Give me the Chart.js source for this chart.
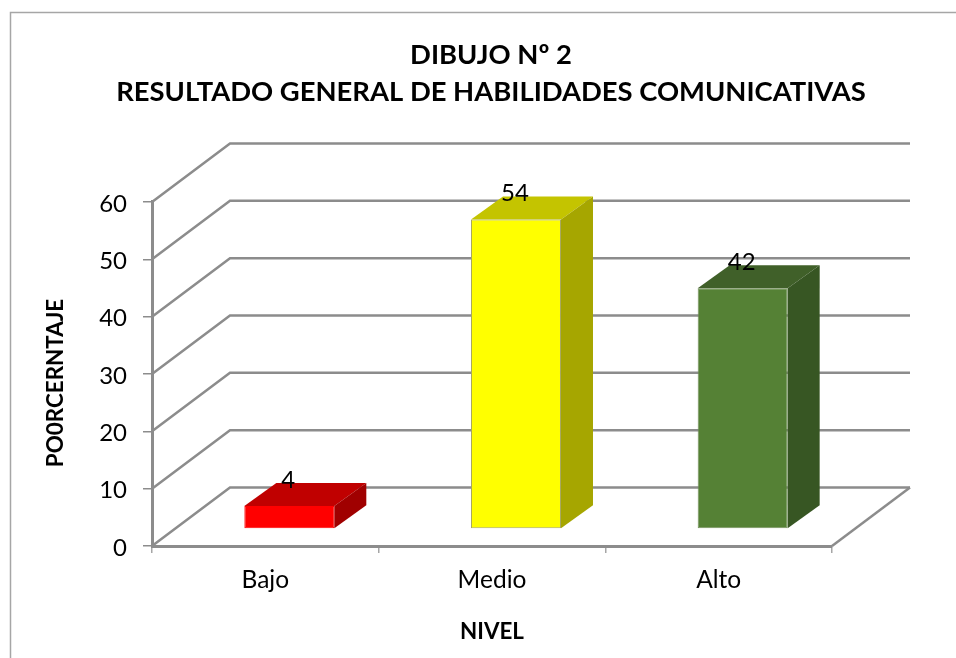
<!DOCTYPE html>
<html>
<head>
<meta charset="utf-8">
<title>Dibujo Nº 2</title>
<style>html,body{margin:0;padding:0;background:#fff}canvas{display:block}</style>
<script src="https://cdn.jsdelivr.net/npm/chart.js@4"></script>
</head>
<body>
<canvas id="c" width="956" height="658"></canvas>
<script>
const categories = ["Bajo", "Medio", "Alto"];
const values = [4, 54, 42];
const frontColors = ["#ff0000", "#ffff00", "#558135"];
const topColors = ["#c00000", "#c4c400", "#406029"];
const sideColors = ["#a00000", "#a6a600", "#375623"];
const edgeColors = ["#ff0000", "#a8a860", "#74905c"];
const titleLines = ["DIBUJO Nº 2", "RESULTADO GENERAL DE HABILIDADES COMUNICATIVAS"];
const yAxisTitle = "PO0RCERNTAJE";
const xAxisTitle = "NIVEL";

const FONT = "Lato, Carlito, sans-serif";
const GRID = "#8c8c8c";
const WALL = {dx: 78, dy: -58.5};
const BAR_SHIFT = {dx: 24, dy: -17};
const BAR_DEPTH = {dx: 32, dy: -23};

const cube3d = {
  id: "cube3d",
  afterLayout(chart) {
    chart.titleBlock.right = 982;
  },
  beforeDraw(chart) {
    const c = chart.ctx;
    c.save();
    c.strokeStyle = "#a6a6a6";
    c.lineWidth = 1.5;
    c.beginPath();
    c.moveTo(10.5, 664);
    c.lineTo(10.5, 12.5);
    c.lineTo(960, 12.5);
    c.stroke();
    c.restore();
  },
  beforeDatasetsDraw(chart) {
    const c = chart.ctx, y = chart.scales.y, a = chart.chartArea;
    c.save();
    c.strokeStyle = GRID;
    c.lineWidth = 2.5;
    y.ticks.forEach(t => {
      const py = y.getPixelForValue(t.value);
      c.beginPath();
      c.moveTo(a.left, py);
      c.lineTo(a.left + WALL.dx, py + WALL.dy);
      c.lineTo(a.right + WALL.dx, py + WALL.dy);
      c.stroke();
    });
    const base = y.getPixelForValue(0);
    c.beginPath();
    c.moveTo(a.right, base);
    c.lineTo(a.right + WALL.dx, base + WALL.dy);
    c.stroke();
    c.restore();
  },
  beforeDatasetDraw(chart) {
    const c = chart.ctx, meta = chart.getDatasetMeta(0);
    meta.data.forEach((bar, i) => {
      const l = bar.x - bar.width / 2 + BAR_SHIFT.dx, r = l + bar.width;
      const t = bar.y + BAR_SHIFT.dy, b = bar.base + BAR_SHIFT.dy;
      c.save();
      c.fillStyle = topColors[i];
      c.beginPath();
      c.moveTo(l, t);
      c.lineTo(l + BAR_DEPTH.dx, t + BAR_DEPTH.dy);
      c.lineTo(r + BAR_DEPTH.dx, t + BAR_DEPTH.dy);
      c.lineTo(r, t);
      c.closePath();
      c.fill();
      c.fillStyle = sideColors[i];
      c.beginPath();
      c.moveTo(r, t);
      c.lineTo(r + BAR_DEPTH.dx, t + BAR_DEPTH.dy);
      c.lineTo(r + BAR_DEPTH.dx, b + BAR_DEPTH.dy);
      c.lineTo(r, b);
      c.closePath();
      c.fill();
      c.restore();
    });
    c.save();
    c.translate(BAR_SHIFT.dx, BAR_SHIFT.dy);
  },
  afterDatasetDraw(chart) {
    chart.ctx.restore();
  },
  afterDatasetsDraw(chart) {
    const c = chart.ctx, meta = chart.getDatasetMeta(0);
    c.save();
    c.font = "24px " + FONT;
    c.fillStyle = "#000";
    c.textAlign = "center";
    c.textBaseline = "middle";
    meta.data.forEach((bar, i) => {
      c.fillText(String(values[i]), bar.x + BAR_SHIFT.dx - 1, bar.y + BAR_SHIFT.dy - 26);
    });
    c.restore();
  }
};

new Chart(document.getElementById("c"), {
  type: "bar",
  data: {
    labels: categories,
    datasets: [{
      data: values,
      backgroundColor: frontColors,
      borderColor: edgeColors,
      borderWidth: 1,
      borderSkipped: false,
      barPercentage: 0.397,
      categoryPercentage: 1
    }]
  },
  plugins: [cube3d],
  options: {
    responsive: false,
    animation: false,
    layout: {padding: {left: 0, right: 124, top: 0, bottom: 0}},
    plugins: {
      legend: {display: false},
      tooltip: {enabled: false},
      title: {
        display: true,
        text: titleLines,
        color: "#000",
        font: {family: FONT, size: 27.4, weight: "bold", lineHeight: 1.35},
        padding: {top: 37, bottom: 91}
      }
    },
    scales: {
      x: {
        afterFit(s) { s.height = 112; },
        grid: {display: true, offset: true, drawOnChartArea: false, color: "#a6a6a6", lineWidth: 1.5, tickLength: 7},
        border: {display: true, color: GRID, width: 3},
        ticks: {color: "#000", font: {family: FONT, size: 24.5}, padding: 12, maxRotation: 0},
        title: {display: true, text: xAxisTitle, color: "#000", font: {family: FONT, size: 22.4, weight: "bold"}, padding: {top: 14, bottom: 13}}
      },
      y: {
        min: 0,
        max: 60,
        afterFit(s) {
          s.width = 152;
          if (!s._shifted) {
            s._shifted = true;
            const draw = s.drawTitle;
            s.drawTitle = function () {
              s.ctx.save();
              s.ctx.translate(0, 9);
              draw.call(s);
              s.ctx.restore();
            };
          }
        },
        grid: {display: true, drawOnChartArea: false, color: GRID, lineWidth: 1.5, tickLength: 9},
        border: {display: true, color: GRID, width: 3},
        ticks: {stepSize: 10, color: "#000", font: {family: FONT, size: 24}, padding: 16, labelOffset: 2},
        title: {display: true, text: yAxisTitle, color: "#000", font: {family: FONT, size: 22.4, weight: "bold"}, padding: {top: 42, bottom: 0}}
      }
    }
  }
});
</script>
</body>
</html>
